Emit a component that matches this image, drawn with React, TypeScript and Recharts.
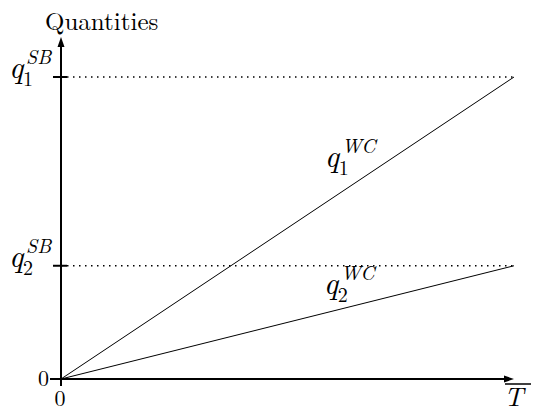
import React from "react";
import { LineChart, Line, XAxis, YAxis, ReferenceLine, ReferenceDot } from "recharts";

const tValues = [0, 10];
const q1WCValues = [0, 8];
const q2WCValues = [0, 3];
const q1SB = 8;
const q2SB = 3;
const tBar = 10;
const yTop = 9.06;
const yTicks = [0, q2SB, q1SB];
const xTicks = [0];
const labelT = 6;

const data = tValues.map((t, i) => ({ t, q1: q1WCValues[i], q2: q2WCValues[i] }));

const FONT = '"Latin Modern Roman"';

const T = ({ x, y, size, italic, anchor, children }: any) => (
  <text
    x={x}
    y={y}
    fontFamily={FONT}
    fontSize={size}
    fontStyle={italic ? "italic" : "normal"}
    textAnchor={anchor || "start"}
    style={{ fontFamily: FONT, fontSize: size, fontStyle: italic ? "italic" : "normal" }}
    fill="#000"
  >
    {children}
  </text>
);

const arrowHead = (x1: number, y1: number, x2: number, y2: number) => {
  const dx = x2 - x1;
  const dy = y2 - y1;
  const len = Math.sqrt(dx * dx + dy * dy) || 1;
  const ux = dx / len;
  const uy = dy / len;
  const L = 10;
  const W = 3.5;
  const bx = x2 - L * ux;
  const by = y2 - L * uy;
  return {
    pts: `${x2},${y2} ${bx - W * uy},${by + W * ux} ${bx + W * uy},${by - W * ux}`,
    lx: x2 - L * 0.6 * ux,
    ly: y2 - L * 0.6 * uy,
  };
};

const YArrow = (props: any) => {
  const { x1, y1, x2, y2 } = props;
  const a = arrowHead(x1, y1, x2, y2);
  return (
    <g>
      <line x1={x1} y1={y1 + 1} x2={a.lx} y2={a.ly} stroke="#000" strokeWidth={2} />
      <polygon points={a.pts} fill="#000" />
      <T x={x2 - 16} y={y2 - 7} size={25}>Quantities</T>
    </g>
  );
};

const XArrow = (props: any) => {
  const { x1, y1, x2, y2 } = props;
  const a = arrowHead(x1, y1, x2, y2);
  return (
    <g>
      <line x1={x1 - 1} y1={y1} x2={a.lx} y2={a.ly} stroke="#000" strokeWidth={2} />
      <polygon points={a.pts} fill="#000" />
      <line x1={x2 - 9} y1={y2 + 5} x2={x2 + 17} y2={y2 + 5} stroke="#000" strokeWidth={1.5} />
      <T x={x2 - 10} y={y2 + 27} size={27} italic>T</T>
    </g>
  );
};

const QLabel = ({ x, y, sub, sup }: { x: number; y: number; sub: string; sup: string }) => (
  <g>
    <T x={x} y={y} size={31} italic>q</T>
    <T x={x + 14} y={y + 8} size={20}>{sub}</T>
    <T x={x + 17} y={y - 14} size={20} italic>{sup}</T>
  </g>
);

const renderYTick = (props: any) => {
  const { x, y, payload } = props;
  const v = payload.value;
  if (v === 0) {
    return (
      <g key={`yt-${v}`}>
        <line x1={x - 11} y1={y} x2={x} y2={y} stroke="#000" strokeWidth={2} />
        <T x={x - 12} y={y + 7} size={22} anchor="end">0</T>
      </g>
    );
  }
  return (
    <g key={`yt-${v}`}>
      <line x1={x - 8} y1={y} x2={x + 6} y2={y} stroke="#000" strokeWidth={2} />
      <QLabel x={x - 52} y={y + 1} sub={v === q1SB ? "1" : "2"} sup="SB" />
    </g>
  );
};

const renderXTick = (props: any) => {
  const { x, y, payload } = props;
  return (
    <g key={`xt-${payload.value}`}>
      <line x1={x} y1={y} x2={x} y2={y + 7} stroke="#000" strokeWidth={2} />
      <T x={x - 1} y={y + 27} size={22} anchor="middle">0</T>
    </g>
  );
};

const WCLabel = (sub: string, dx: number, dy: number) => (props: any) => {
  const { cx, cy } = props;
  return <QLabel x={cx + dx} y={cy + dy} sub={sub} sup="WC" />;
};

export default function App() {
  const q1At = (q1WCValues[1] / tBar) * labelT;
  const q2At = (q2WCValues[1] / tBar) * labelT;
  return (
    <div style={{ position: "absolute", left: 0, top: 0, background: "#fff" }}>
      <LineChart width={535} height={415} data={data} margin={{ top: 37, right: 21, left: 60, bottom: 35 }}>
        <XAxis
          dataKey="t"
          type="number"
          domain={[0, tBar]}
          ticks={xTicks}
          height={1}
          axisLine={false}
          tickLine={false}
          tickSize={0}
          tickMargin={0}
          tick={renderXTick}
          interval={0}
        />
        <YAxis
          type="number"
          domain={[0, yTop]}
          ticks={yTicks}
          width={1}
          axisLine={false}
          tickLine={false}
          tickSize={0}
          tickMargin={0}
          tick={renderYTick}
          interval={0}
          allowDataOverflow
        />
        <ReferenceLine
          segment={[{ x: 0, y: q1SB }, { x: tBar, y: q1SB }]}
          stroke="#000"
          strokeWidth={1.5}
          strokeDasharray="1.5 4.5"
          ifOverflow="visible"
        />
        <ReferenceLine
          segment={[{ x: 0, y: q2SB }, { x: tBar, y: q2SB }]}
          stroke="#000"
          strokeWidth={1.5}
          strokeDasharray="1.5 4.5"
          ifOverflow="visible"
        />
        <Line type="linear" dataKey="q1" stroke="#000" strokeWidth={1} dot={false} isAnimationActive={false} />
        <Line type="linear" dataKey="q2" stroke="#000" strokeWidth={1} dot={false} isAnimationActive={false} />
        <ReferenceLine
          segment={[{ x: 0, y: 0 }, { x: 0, y: yTop }]}
          ifOverflow="visible"
          shape={<YArrow />}
        />
        <ReferenceLine
          segment={[{ x: 0, y: 0 }, { x: tBar, y: 0 }]}
          ifOverflow="visible"
          shape={<XArrow />}
        />
        <ReferenceDot x={labelT} y={q1At} ifOverflow="visible" shape={WCLabel("1", -8, -31)} />
        <ReferenceDot x={labelT} y={q2At} ifOverflow="visible" shape={WCLabel("2", -9, -17)} />
      </LineChart>
    </div>
  );
}
